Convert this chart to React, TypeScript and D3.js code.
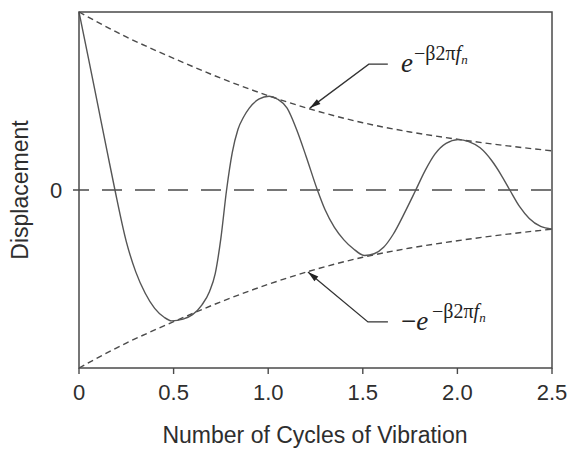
import React from "react";
import * as d3 from "d3";

// ---- data ----
const cycles = [
  0, 0.05, 0.1, 0.15, 0.19, 0.25, 0.3, 0.35, 0.4, 0.45, 0.49,
  0.55, 0.6, 0.65, 0.69, 0.72, 0.75, 0.78, 0.81, 0.84, 0.87, 0.9, 0.95, 1.005,
  1.05, 1.1, 1.15, 1.2, 1.26, 1.3, 1.35, 1.4, 1.45, 1.51,
  1.56, 1.61, 1.66, 1.72, 1.78, 1.83, 1.88, 1.94, 2.004,
  2.06, 2.12, 2.18, 2.23, 2.277, 2.33, 2.38, 2.44, 2.5,
];
const displacement = [
  1.0, 0.74, 0.475, 0.21, 0, -0.29, -0.46, -0.58, -0.665, -0.715, -0.735,
  -0.725, -0.7, -0.645, -0.57, -0.47, -0.27, 0, 0.21, 0.34, 0.41, 0.46, 0.51, 0.527,
  0.51, 0.46, 0.34, 0.19, 0, -0.11, -0.21, -0.28, -0.33, -0.368,
  -0.358, -0.322, -0.25, -0.13, 0, 0.11, 0.2, 0.262, 0.283,
  0.272, 0.237, 0.167, 0.087, 0, -0.095, -0.16, -0.205, -0.22,
];
const envelopeCycles = [0, 0.25, 0.5, 0.75, 1.0, 1.25, 1.5, 1.75, 2.0, 2.25, 2.5];
const envelopeUpper = [1.0, 0.86, 0.74, 0.628, 0.53, 0.446, 0.378, 0.326, 0.285, 0.25, 0.22];
const envelopeLower = [-1.0, -0.86, -0.74, -0.628, -0.53, -0.446, -0.378, -0.326, -0.285, -0.25, -0.22];
const xTickValues = [0, 0.5, 1.0, 1.5, 2.0, 2.5];
const xTickLabels = ["0", "0.5", "1.0", "1.5", "2.0", "2.5"];
const yTickValues = [0];
const yTickLabels = ["0"];
const xTitle = "Number of Cycles of Vibration";
const yTitle = "Displacement";
const upperTip = [1.22, 0.46];
const lowerTip = [1.21, -0.46];

const W = 569;
const H = 449;
const left = 79, right = 552, top = 12, bottom = 368;
const ink = "#4a4a4a";
const textInk = "#2e2e2e";
const sans = "'Liberation Sans', Arial, Helvetica, sans-serif";
const serif = "'Liberation Serif', 'Times New Roman', serif";

function arrowHead(tx: number, ty: number, fx: number, fy: number, len = 11, half = 3) {
  const dx = tx - fx, dy = ty - fy;
  const L = Math.hypot(dx, dy);
  const ux = dx / L, uy = dy / L;
  const bx = tx - ux * len, by = ty - uy * len;
  const px = -uy, py = ux;
  return `M${tx},${ty}L${bx + px * half},${by + py * half}L${bx - px * half},${by - py * half}Z`;
}

export default function App() {
  const x = d3.scaleLinear().domain([0, 2.5]).range([left, right]);
  const y = d3.scaleLinear().domain([-1, 1]).range([bottom, top]);

  const curvePts: [number, number][] = cycles.map((c, i) => [c, displacement[i]]);
  const upPts: [number, number][] = envelopeCycles.map((c, i) => [c, envelopeUpper[i]]);
  const loPts: [number, number][] = envelopeCycles.map((c, i) => [c, envelopeLower[i]]);

  const smooth = d3
    .line<[number, number]>()
    .x((d) => x(d[0]))
    .y((d) => y(d[1]))
    .curve(d3.curveMonotoneX);

  const utx = x(upperTip[0]), uty = y(upperTip[1]);
  const ltx = x(lowerTip[0]), lty = y(lowerTip[1]);
  const uElbow = [utx + 59, uty - 44];
  const lElbow = [ltx + 60, lty + 50];

  return (
    <svg
      width={W}
      height={H}
      style={{ position: "absolute", left: 0, top: 0, display: "block", background: "#fff" }}
    >
      {/* zero line */}
      {yTickValues.map((v) => (
        <g key={v}>
          <line
            x1={left}
            x2={right}
            y1={y(v)}
            y2={y(v)}
            stroke={ink}
            strokeWidth={1.6}
            strokeDasharray="20,13"
            strokeDashoffset={10}
          />
          <line x1={left - 6} x2={left} y1={y(v)} y2={y(v)} stroke={ink} strokeWidth={1.5} />
        </g>
      ))}

      {/* envelopes */}
      <path d={smooth(upPts) || ""} fill="none" stroke={ink} strokeWidth={1.4} strokeDasharray="6,4" />
      <path d={smooth(loPts) || ""} fill="none" stroke={ink} strokeWidth={1.4} strokeDasharray="6,4" />

      {/* response */}
      <path d={smooth(curvePts) || ""} fill="none" stroke="#555" strokeWidth={1.4} />

      {/* frame */}
      <rect x={left} y={top} width={right - left} height={bottom - top} fill="none" stroke={ink} strokeWidth={1.5} />

      {/* x ticks */}
      {xTickValues.map((v, i) => (
        <g key={v}>
          <line x1={x(v)} x2={x(v)} y1={bottom} y2={bottom + 6} stroke={ink} strokeWidth={1.4} />
          <text x={x(v)} y={400} textAnchor="middle" fontFamily={sans} fontSize={22} fill={textInk}>
            {xTickLabels[i]}
          </text>
        </g>
      ))}

      {/* y tick labels */}
      {yTickValues.map((v, i) => (
        <text key={v} x={56} y={y(v) + 8} textAnchor="middle" fontFamily={sans} fontSize={22} fill={textInk}>
          {yTickLabels[i]}
        </text>
      ))}

      {/* axis titles */}
      <text x={(left + right) / 2 - 0.5} y={443} textAnchor="middle" fontFamily={sans} fontSize={23} fill={textInk}>
        {xTitle}
      </text>
      <text
        transform={`translate(28,${(top + bottom) / 2}) rotate(-90)`}
        textAnchor="middle"
        fontFamily={sans}
        fontSize={23}
        fill={textInk}
      >
        {yTitle}
      </text>

      {/* upper annotation */}
      <path
        d={`M${uElbow[0] + 19},${uElbow[1]}L${uElbow[0]},${uElbow[1]}L${utx},${uty}`}
        fill="none"
        stroke="#333"
        strokeWidth={1.3}
      />
      <path d={arrowHead(utx, uty, uElbow[0], uElbow[1])} fill="#222" />
      <text x={401} y={72} fontFamily={serif} fontSize={27} fontStyle="italic" fill="#222">
        e
      </text>
      <text x={414} y={60} fontFamily={serif} fontSize={20} fill="#222">
        −β2π<tspan fontStyle="italic">f</tspan>
        <tspan fontStyle="italic" fontSize={13} dy={4}>
          n
        </tspan>
      </text>

      {/* lower annotation */}
      <path
        d={`M${lElbow[0] + 20},${lElbow[1]}L${lElbow[0]},${lElbow[1]}L${ltx},${lty}`}
        fill="none"
        stroke="#333"
        strokeWidth={1.3}
      />
      <path d={arrowHead(ltx, lty, lElbow[0], lElbow[1])} fill="#222" />
      <text x={401} y={330} fontFamily={serif} fontSize={27} fill="#222">
        −<tspan fontStyle="italic">e</tspan>
      </text>
      <text x={432} y={318} fontFamily={serif} fontSize={20} fill="#222">
        −β2π<tspan fontStyle="italic">f</tspan>
        <tspan fontStyle="italic" fontSize={13} dy={4}>
          n
        </tspan>
      </text>
    </svg>
  );
}
